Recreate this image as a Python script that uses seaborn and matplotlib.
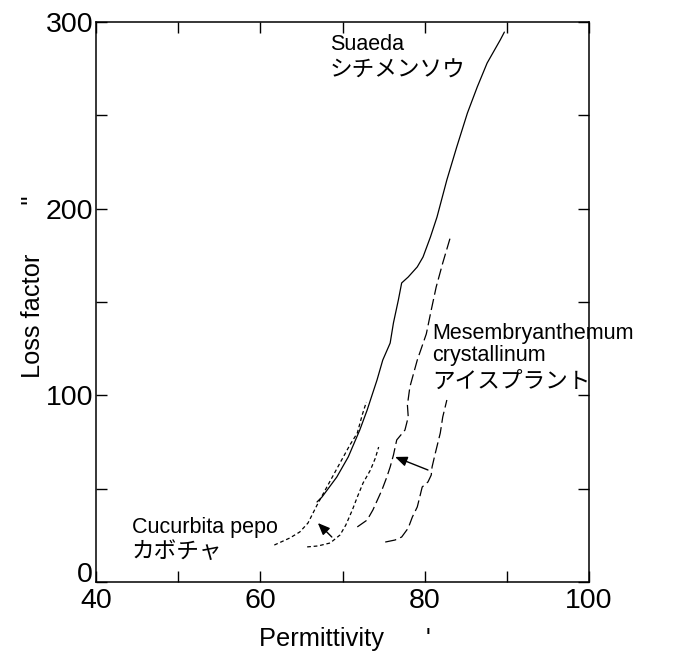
import matplotlib
matplotlib.use("Agg")
import matplotlib.pyplot as plt
import seaborn as sns
import pandas as pd

# Dielectric spectra of three plants: permittivity (eps') vs loss factor (eps'')
suaeda_perm = [66.9, 67.5, 69.3, 70.7, 72.1, 73.0, 73.4, 74.2, 74.9, 75.8, 76.2, 76.8,
               77.2, 78.0, 79.1, 79.8, 80.7, 81.5, 82.7, 83.9, 85.2, 86.4, 87.6, 89.2, 89.7]
suaeda_loss = [42.9, 45.5, 56.2, 67.0, 81.4, 92.1, 97.5, 108.2, 118.9, 128.0, 138.8, 151.1,
               160.2, 163.4, 168.8, 174.1, 184.8, 195.5, 215.4, 233.0, 251.2, 265.2, 278.0, 290.4, 294.6]

cucurbita_a_perm = [61.7, 63.6, 64.8, 65.8, 66.9, 68.1, 69.7, 70.9, 71.8, 72.4, 72.9]
cucurbita_a_loss = [19.8, 23.6, 26.8, 31.6, 41.2, 50.9, 63.8, 73.4, 79.8, 89.5, 96.4]
cucurbita_b_perm = [65.7, 67.0, 68.5, 69.7, 70.4, 71.2, 71.8, 72.5, 73.4, 74.0, 74.4]
cucurbita_b_loss = [18.8, 19.3, 20.9, 25.2, 30.5, 38.6, 45.5, 53.0, 60.0, 66.4, 72.3]

mesem_a_perm = [71.8, 73.0, 73.7, 74.8, 75.4, 75.8, 76.2, 76.6, 77.6, 78.0, 77.9, 78.2,
                79.1, 80.2, 80.8, 81.4, 82.2, 83.1]
mesem_a_loss = [29.5, 33.2, 38.6, 49.3, 56.3, 61.6, 68.0, 76.1, 81.4, 88.4, 94.8, 104.5,
                118.9, 132.9, 145.7, 158.0, 170.9, 184.3]
mesem_b_perm = [75.2, 76.4, 77.2, 78.0, 78.5, 79.1, 79.4, 79.7, 80.4, 80.8, 80.9, 81.3,
                81.9, 82.2, 82.7]
mesem_b_loss = [21.4, 22.5, 24.1, 28.9, 34.8, 40.2, 45.5, 50.9, 53.6, 57.3, 61.6, 69.1,
                79.8, 88.4, 97.5]

# arrows: (tail, head) in data units
cucurbita_arrow = ((68.7, 24.1), (67.0, 31.6))
mesem_arrow = ((80.4, 60.0), (76.4, 67.0))

x_ticks = [40, 60, 80, 100]
x_minor = [50, 70, 90]
y_ticks = [0, 100, 200, 300]
y_minor = [50, 150, 250]

sns.set_theme(style="ticks")
plt.rcParams["font.family"] = ["Liberation Sans", "Noto Sans CJK JP", "DejaVu Sans"]
plt.rcParams["text.color"] = "black"
plt.rcParams["axes.labelcolor"] = "black"

fig = plt.figure(figsize=(6.79, 6.56), dpi=100)
ax = fig.add_axes([96 / 679, 1 - 582 / 656, (589 - 96) / 679, (582 - 22) / 656])

short_dash = (0, (3.0, 2.2))
long_dash = (0, (9.0, 3.5))
lw = 0.9

curves = [
    (suaeda_perm, suaeda_loss, "-"),
    (cucurbita_a_perm, cucurbita_a_loss, short_dash),
    (cucurbita_b_perm, cucurbita_b_loss, short_dash),
    (mesem_a_perm, mesem_a_loss, long_dash),
    (mesem_b_perm, mesem_b_loss, long_dash),
]
for xs, ys, ls in curves:
    df = pd.DataFrame({"perm": xs, "loss": ys})
    sns.lineplot(data=df, x="perm", y="loss", sort=False, estimator=None,
                 color="black", linewidth=lw, linestyle=ls, ax=ax)

for (tail, head) in (cucurbita_arrow, mesem_arrow):
    ax.annotate("", xy=head, xytext=tail,
                arrowprops=dict(arrowstyle="-|>,head_length=0.6,head_width=0.25",
                                color="black", lw=1.0, mutation_scale=12,
                                shrinkA=0, shrinkB=0))

ax.set_xlim(40, 100)
ax.set_ylim(0, 300)
ax.set_xticks(x_ticks)
ax.set_xticks(x_minor, minor=True)
ax.set_yticks(y_ticks)
ax.set_yticks(y_minor, minor=True)
ax.tick_params(which="both", direction="in", length=8, width=1.0,
               top=True, right=True, labelsize=20.5, colors="black", pad=2)
ax.tick_params(axis="x", which="major", pad=4)
for s in ax.spines.values():
    s.set_linewidth(1.1)
    s.set_color("black")

# lift the "0" label so it sits on the axis line
ax.get_yticklabels()[0].set_verticalalignment("baseline")

ax.set_xlabel("Permittivity      '", fontsize=18.3)
ax.set_ylabel("Loss factor       \"", fontsize=18.3)
ax.xaxis.set_label_coords(0.505, -0.08)
ax.yaxis.set_label_coords(-0.103, 0.527)

# species labels
def px(x, y):
    return 40 + (x - 96) / 493 * 60, (582 - y) / 560 * 300

for (x, y), s, fs in [((330, 45), "Suaeda", 15.5), ((330, 70), "シチメンソウ", 16.3),
                      ((432, 333), "Mesembryanthemum", 15.5), ((432, 356), "crystallinum", 15.5),
                      ((432, 381), "アイスプラント", 16.3),
                      ((132, 528), "Cucurbita pepo", 15.5), ((132, 551), "カボチャ", 16.3)]:
    ax.text(*px(x, y), s, fontsize=fs, ha="left", va="center", color="black")

fig.savefig("out.png", dpi=100)
